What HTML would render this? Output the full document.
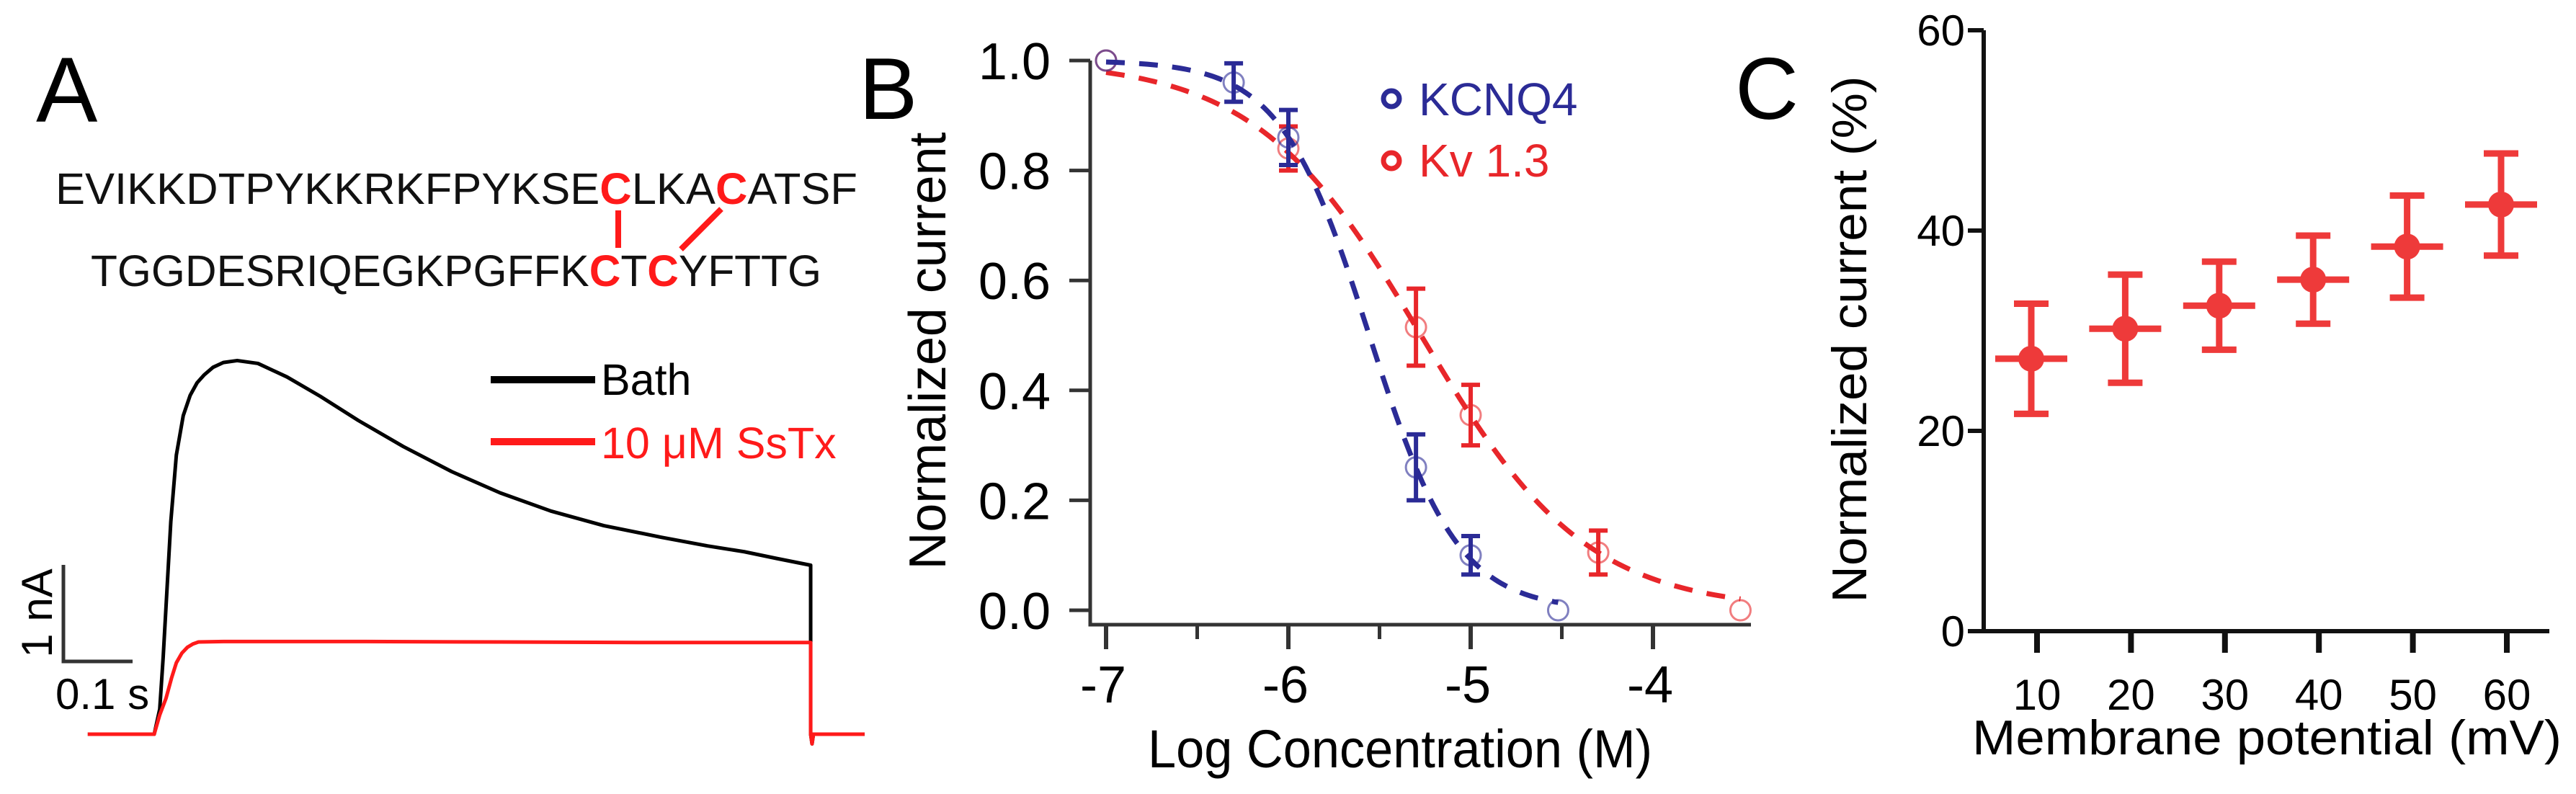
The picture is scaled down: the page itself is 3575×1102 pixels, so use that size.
<!DOCTYPE html>
<html><head><meta charset="utf-8"><style>
html,body{margin:0;padding:0;background:#fff;}
svg{display:block;font-family:"Liberation Sans",Arial,sans-serif;}
</style></head><body>
<svg id="fig" width="3575" height="1102" viewBox="0 0 3575 1102" xmlns="http://www.w3.org/2000/svg">
<rect width="3575" height="1102" fill="#fff"/>
<!-- Panel A -->
<g>
<text x="50" y="169" font-size="128">A</text>
<text x="77" y="283" font-size="61" textLength="1113" lengthAdjust="spacingAndGlyphs" fill="#111">EVIKKDTPYKKRKFPYKSE<tspan fill="#ff1a1a" font-weight="bold">C</tspan>LKA<tspan fill="#ff1a1a" font-weight="bold">C</tspan>ATSF</text>
<text x="126" y="397" font-size="61" textLength="1014" lengthAdjust="spacingAndGlyphs" fill="#111">TGGDESRIQEGKPGFFK<tspan fill="#ff1a1a" font-weight="bold">C</tspan>T<tspan fill="#ff1a1a" font-weight="bold">C</tspan>YFTTG</text>
<line x1="858" y1="292" x2="858" y2="344" stroke="#ff1a1a" stroke-width="8"/>
<line x1="1001" y1="290" x2="945" y2="346" stroke="#ff1a1a" stroke-width="8"/>
<g id="tracesA"></g>
<path d="M88,784 L88,918 L184,918" fill="none" stroke="#333" stroke-width="5"/>
<text transform="translate(72,851) rotate(-90)" font-size="60" text-anchor="middle">1 nA</text>
<text x="77" y="984" font-size="60">0.1 s</text>
<line x1="681" y1="527" x2="826" y2="527" stroke="#000" stroke-width="10"/>
<text x="834" y="548" font-size="61">Bath</text>
<line x1="681" y1="613" x2="826" y2="613" stroke="#ff1a1a" stroke-width="10"/>
<text x="834" y="636" font-size="61" fill="#ff1a1a">10 μM SsTx</text>
</g>
<!-- Panel B -->
<g>
<text x="1192" y="165" font-size="122">B</text>
<g id="chartB"></g>
<text transform="translate(1312,487) rotate(-90)" font-size="72" text-anchor="middle" textLength="607" lengthAdjust="spacingAndGlyphs">Normalized current</text>
<text x="1593" y="1065" font-size="74" textLength="700" lengthAdjust="spacingAndGlyphs">Log Concentration (M)</text>
<circle cx="1931" cy="137" r="11" fill="none" stroke="#2b2b96" stroke-width="7"/>
<text x="1969" y="160" font-size="64" fill="#2b2b96">KCNQ4</text>
<circle cx="1931" cy="223" r="11" fill="none" stroke="#e8262a" stroke-width="7"/>
<text x="1969" y="245" font-size="64" fill="#e8262a">Kv 1.3</text>
</g>
<!-- Panel C -->
<g>
<text x="2408" y="165" font-size="122">C</text>
<g id="chartC"></g>
<text transform="translate(2590,471) rotate(-90)" font-size="68" text-anchor="middle" textLength="731" lengthAdjust="spacingAndGlyphs">Normalized current (%)</text>
<text x="2737" y="1047" font-size="68" textLength="818" lengthAdjust="spacingAndGlyphs">Membrane potential (mV)</text>
</g>
</svg>
<script>
// ---- Panel A data (time s, current nA) ----
const bathT = [-0.096,0,0.008,0.013,0.017,0.024,0.032,0.042,0.052,0.062,0.072,0.085,0.1,0.12,0.15,0.192,0.24,0.295,0.36,0.430,0.5,0.574,0.65,0.733,0.8,0.853,0.9,0.949,0.949,0.951,0.953,1.027];
const bathI = [0,0,0.26,0.8,1.31,2.2,2.89,3.3,3.51,3.64,3.72,3.8,3.85,3.87,3.84,3.70,3.50,3.25,2.98,2.72,2.50,2.31,2.16,2.04,1.95,1.89,1.82,1.75,0,-0.1,0,0];
const sstxT = [-0.096,0,0.008,0.017,0.025,0.032,0.04,0.048,0.056,0.064,0.1,0.3,0.5,0.7,0.949,0.949,0.951,0.953,1.027];
const sstxI = [0,0,0.2,0.37,0.58,0.74,0.84,0.9,0.935,0.955,0.96,0.96,0.955,0.95,0.95,0,-0.1,0,0];
// ---- Panel B data ----
const kcnqX = [-7,-6.3,-6,-5.3,-5,-4.52];
const kcnqY = [1.0,0.96,0.86,0.26,0.10,0.0];
const kcnqErr = [0,0.035,0.05,0.06,0.035,0];
const kvX = [-7,-6,-5.3,-5,-4.3,-3.52];
const kvY = [1.0,0.84,0.515,0.355,0.105,0.0];
const kvErr = [0,0.04,0.07,0.055,0.04,0];
const kcnqFit = [-5.556,1.78]; // logIC50, hill
const kvFit = [-5.272,0.957];
const bXTicks = [-7,-6,-5,-4];
const bXMinor = [-6.5,-5.5,-4.5];
const bYTicks = [0,0.2,0.4,0.6,0.8,1.0];
const bYLabels = ["0.0","0.2","0.4","0.6","0.8","1.0"];
// ---- Panel C data ----
const cX = [10,20,30,40,50,60];
const cY = [27.2,30.2,32.5,35.1,38.4,42.6];
const cErr = [5.5,5.4,4.4,4.4,5.1,5.1];
const cXLabels = ["10","20","30","40","50","60"];
const cYTicks = [0,20,40,60];

const NS="http://www.w3.org/2000/svg";
function mk(parent,tag,attrs){const e=document.createElementNS(NS,tag);for(const k in attrs)e.setAttribute(k,attrs[k]);parent.appendChild(e);return e;}

// Panel A
const ax=t=>214+t*960, ay=i=>1019-i*134;
const gA=document.getElementById('tracesA');
let p=mk(gA,'polyline',{points:bathT.map((t,i)=>ax(t)+','+ay(bathI[i])).join(' '),fill:'none',stroke:'#000','stroke-width':5,'stroke-linejoin':'round'});


p=mk(gA,'polyline',{points:sstxT.map((t,i)=>ax(t)+','+ay(sstxI[i])).join(' '),fill:'none',stroke:'#ff1a1a','stroke-width':5,'stroke-linejoin':'round'});



// Panel B
const bx=v=>1535+(v+7)*253, by=v=>847-v*763;
const gB=document.getElementById('chartB');
let e=mk(gB,'path',{d:'M1513,84 L1513,867 L2430,867',fill:'none',stroke:'#333','stroke-width':5});


bYTicks.forEach((v,i)=>{
  let t=mk(gB,'line',{x1:1484,x2:1513,y1:by(v),y2:by(v),stroke:'#333','stroke-width':5});
  
  
  let l=mk(gB,'text',{x:1458,y:by(v)+26,'font-size':72,'text-anchor':'end'});l.textContent=bYLabels[i];
  
  
});
bXTicks.forEach(v=>{
  let t=mk(gB,'line',{x1:bx(v),x2:bx(v),y1:867,y2:901,stroke:'#333','stroke-width':6});
  
  
  let l=mk(gB,'text',{x:bx(v)-4,y:975,'font-size':72,'text-anchor':'middle'});l.textContent=String(v);
  
  
});
bXMinor.forEach(v=>{
  let t=mk(gB,'line',{x1:bx(v),x2:bx(v),y1:867,y2:887,stroke:'#333','stroke-width':5});
  
  
});
function fitPath(fit,x0,x1){let pts=[];for(let k=0;k<=120;k++){const x=x0+(x1-x0)*k/120;const y=1/(1+Math.pow(10,(x-fit[0])*fit[1]));pts.push(bx(x)+','+by(y));}return pts.join(' ');}
function series(X,Y,E,fit,col,name){
  let f=mk(gB,'polyline',{points:fitPath(fit,-7,X[X.length-1]),fill:'none',stroke:col,'stroke-width':7,'stroke-dasharray':'26 20'});
  
  
  X.forEach((x,i)=>{
    if(E[i]>0){
      let b=mk(gB,'path',{d:`M${bx(x)},${by(Y[i]+E[i])}V${by(Y[i]-E[i])}M${bx(x)-13},${by(Y[i]+E[i])}h26M${bx(x)-13},${by(Y[i]-E[i])}h26`,stroke:col,'stroke-width':6,fill:'none'});
      
      
    }
    let c=mk(gB,'circle',{cx:bx(x),cy:by(Y[i]),r:14,fill:'none',stroke:col,'stroke-width':3,'stroke-opacity':0.6});
    
    
  });
}
series(kvX,kvY,kvErr,kvFit,'#e8262a','kv13');
series(kcnqX,kcnqY,kcnqErr,kcnqFit,'#2b2b96','kcnq4');

// Panel C
const cx=v=>2819+(v-10)*13.04, cy=v=>876-v*13.9;
const gC=document.getElementById('chartC');
e=mk(gC,'path',{d:'M2753,42 L2753,876 M2733,876 L3538,876',fill:'none',stroke:'#111','stroke-width':6});


cYTicks.forEach(v=>{
  let t=mk(gC,'line',{x1:2731,x2:2753,y1:cy(v),y2:cy(v),stroke:'#111','stroke-width':6});
  
  
  let l=mk(gC,'text',{x:2727,y:cy(v)+21,'font-size':60,'text-anchor':'end'});l.textContent=String(v);
  
  
});
cX.forEach((v,i)=>{
  let t=mk(gC,'line',{x1:cx(v)+8,x2:cx(v)+8,y1:876,y2:906,stroke:'#111','stroke-width':8});
  
  
  let l=mk(gC,'text',{x:cx(v)+8,y:985,'font-size':60,'text-anchor':'middle'});l.textContent=cXLabels[i];
  
  
  const col='#ee3a3a';
  let b=mk(gC,'path',{d:`M${cx(v)},${cy(cY[i]+cErr[i])}V${cy(cY[i]-cErr[i])}M${cx(v)-24},${cy(cY[i]+cErr[i])}h48M${cx(v)-24},${cy(cY[i]-cErr[i])}h48M${cx(v)-50},${cy(cY[i])}h100`,stroke:col,'stroke-width':9,fill:'none'});
  
  
  let c=mk(gC,'circle',{cx:cx(v),cy:cy(cY[i]),r:18,fill:col});
  
  
});
</script>
</body></html>
